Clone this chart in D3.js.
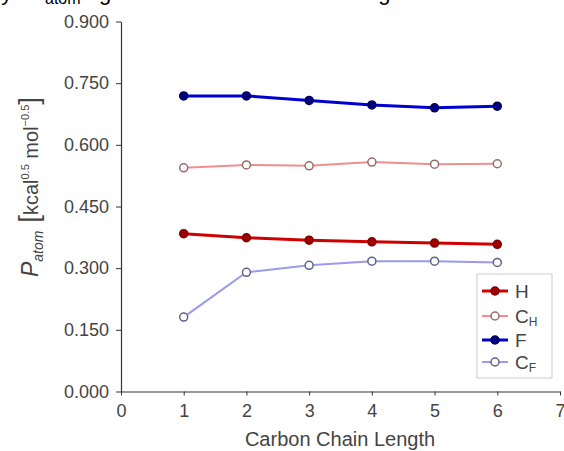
<!DOCTYPE html>
<html><head><meta charset="utf-8">
<script src="https://cdn.jsdelivr.net/npm/d3@7"></script>
<style>body{margin:0;background:#fff}svg{display:block}</style>
</head><body>
<svg id="c" width="564" height="451"></svg>
<script>
const chainLength = [1, 2, 3, 4, 5, 6];
const seriesNames = ["H", "C_H", "F", "C_F"];
const valuesH  = [0.384, 0.374, 0.368, 0.364, 0.361, 0.358];
const valuesCH = [0.544, 0.551, 0.549, 0.558, 0.553, 0.554];
const valuesF  = [0.719, 0.719, 0.708, 0.697, 0.690, 0.694];
const valuesCF = [0.181, 0.290, 0.307, 0.317, 0.317, 0.314];
const yTicks = [0, 0.15, 0.30, 0.45, 0.60, 0.75, 0.90];
const xTicks = [0, 1, 2, 3, 4, 5, 6, 7];

const svg = d3.select("#c");
const x = d3.scaleLinear().domain([0, 7]).range([121, 560]);
const y = d3.scaleLinear().domain([0, 0.9]).range([391.5, 21.5]);

// clipped caption above the chart
const cap = svg.append("text").attr("y", 0).attr("font-family", "Liberation Sans, Arial, sans-serif")
  .attr("font-size", 22).attr("fill", "#000");
cap.append("tspan").attr("x", -11).text("by");
cap.append("tspan").attr("x", 22).attr("font-style", "italic").text("P");
cap.append("tspan").attr("x", 45).attr("font-size", 16).attr("dy", 4).text("atom");
cap.append("tspan").attr("dy", -4).text(" against the carbon chain");
cap.append("tspan").attr("x", 349).text("length");

const fontTick = "Liberation Sans, Arial, sans-serif";
const gy = svg.append("g").attr("transform", `translate(${x(0)},0)`)
  .call(d3.axisLeft(y).tickValues(yTicks).tickFormat(d3.format(".3f")).tickSize(5).tickSizeOuter(0));
gy.select(".domain").attr("stroke", "#333").attr("stroke-width", 1.2);
gy.selectAll(".tick line").attr("stroke", "#333");
gy.selectAll(".tick text").attr("font-family", fontTick).attr("font-size", 18).attr("fill", "#444").attr("x", -12);

const gx = svg.append("g").attr("transform", `translate(0,${y(0)})`)
  .call(d3.axisBottom(x).tickValues(xTicks).tickFormat(d3.format("d")).tickSize(4).tickSizeOuter(0));
gx.select(".domain").attr("stroke", "#333").attr("stroke-width", 1.2);
gx.selectAll(".tick line").attr("stroke", "#333");
gx.selectAll(".tick text").attr("font-family", fontTick).attr("font-size", 18).attr("fill", "#444").attr("y", 13);

// axis labels
svg.append("text").attr("x", 340).attr("y", 446).attr("text-anchor", "middle")
  .attr("font-family", fontTick).attr("font-size", 20).attr("fill", "#444").text("Carbon Chain Length");

const yl = svg.append("text").attr("transform", "translate(38,187) rotate(-90)").attr("text-anchor", "middle")
  .attr("font-family", fontTick).attr("font-size", 20).attr("fill", "#444");
yl.append("tspan").attr("font-style", "italic").attr("font-size", 23).text("P");
yl.append("tspan").attr("font-size", 14).attr("dy", 5).attr("font-style", "italic").text("atom");
yl.append("tspan").attr("dy", -5).attr("font-size", 28).text(" [");
yl.append("tspan").text("kcal");
yl.append("tspan").attr("font-size", 11).attr("dy", -9).text("0.5");
yl.append("tspan").attr("dy", 9).text(" mol");
yl.append("tspan").attr("font-size", 11).attr("dy", -9).text("\u22120.5");
yl.append("tspan").attr("dy", 9).attr("font-size", 28).text("]");

const series = [
  {name: "H", sub: "", vals: valuesH, line: "#d00000", lw: 3, mfill: "#a00000", mstroke: "#800000", r: 4},
  {name: "C", sub: "H", vals: valuesCH, line: "#ee9090", lw: 2, mfill: "#ffffff", mstroke: "#9a6a6a", r: 4},
  {name: "F", sub: "", vals: valuesF, line: "#0000d0", lw: 3, mfill: "#000080", mstroke: "#000060", r: 4},
  {name: "C", sub: "F", vals: valuesCF, line: "#9a9aee", lw: 2, mfill: "#ffffff", mstroke: "#60608a", r: 4}
];

const line = d3.line().x((d, i) => x(chainLength[i])).y(d => y(d));
series.forEach(s => {
  svg.append("path").attr("d", line(s.vals)).attr("fill", "none").attr("stroke", s.line).attr("stroke-width", s.lw);
  svg.selectAll(null).data(s.vals).enter().append("circle")
    .attr("cx", (d, i) => x(chainLength[i])).attr("cy", d => y(d)).attr("r", s.r)
    .attr("fill", s.mfill).attr("stroke", s.mstroke).attr("stroke-width", 1.5);
});

// legend
const lg = svg.append("g");
lg.append("rect").attr("x", 477).attr("y", 274).attr("width", 75).attr("height", 104)
  .attr("fill", "#fff").attr("stroke", "#ccc").attr("stroke-width", 1);
const ly = [291, 316, 340, 362];
series.forEach((s, i) => {
  const yy = ly[i];
  lg.append("line").attr("x1", 482).attr("x2", 508).attr("y1", yy).attr("y2", yy)
    .attr("stroke", s.line).attr("stroke-width", s.lw);
  lg.append("circle").attr("cx", 495).attr("cy", yy).attr("r", s.r)
    .attr("fill", s.mfill).attr("stroke", s.mstroke).attr("stroke-width", 1.5);
  const t = lg.append("text").attr("x", 515).attr("y", yy + 7).attr("font-family", fontTick)
    .attr("font-size", 19).attr("fill", "#444");
  t.append("tspan").text(s.name);
  if (s.sub) t.append("tspan").attr("font-size", 12).attr("dy", 3).text(s.sub);
});
</script>
</body></html>
